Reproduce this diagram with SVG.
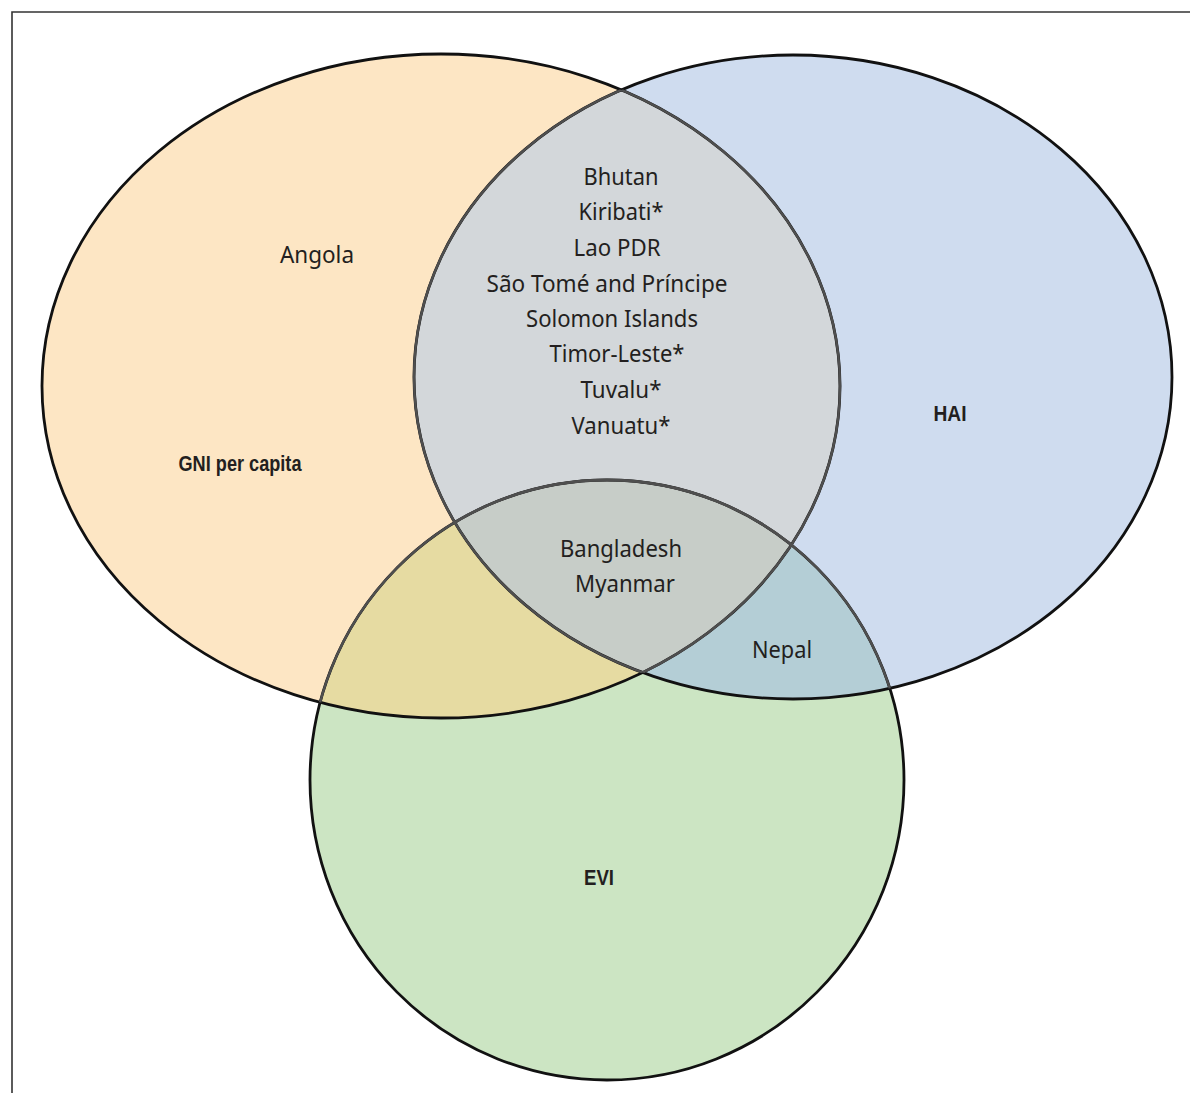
<svg xmlns="http://www.w3.org/2000/svg" width="1190" height="1093" viewBox="0 0 1190 1093">
  <style>
    .lbl { font-family: "Noto Sans", "Open Sans", "Liberation Sans", sans-serif; font-size: 23px; fill: #231F20; text-anchor: middle; }
    .ttl { font-family: "Liberation Sans", "DejaVu Sans", sans-serif; font-size: 22px; font-weight: bold; fill: #231F20; text-anchor: middle; }
    .edge { fill: none; stroke: #111; stroke-width: 2.8; }
    .edge-in { fill: none; stroke: #4f4f4f; stroke-width: 2.4; }
  </style>
  <defs>
    <ellipse id="shapeGNI" cx="441" cy="386" rx="399" ry="332"/>
    <ellipse id="shapeHAI" cx="793" cy="377" rx="379" ry="322"/>
    <ellipse id="shapeEVI" cx="607" cy="780" rx="297" ry="300"/>
    <clipPath id="clipGNI"><use href="#shapeGNI"/></clipPath>
    <clipPath id="clipHAI"><use href="#shapeHAI"/></clipPath>
    <clipPath id="clipEVI"><use href="#shapeEVI"/></clipPath>
  </defs>

  <rect width="1190" height="1093" fill="#ffffff"/>
  <!-- frame: top and left rules only -->
  <path d="M12 1093 V12 H1190" fill="none" stroke="#333" stroke-width="1.6"/>

  <!-- set regions -->
  <g id="fills">
    <use href="#shapeGNI" fill="#FDE6C4"/>
    <use href="#shapeHAI" fill="#CFDCEF"/>
    <use href="#shapeEVI" fill="#CCE5C3"/>
    <!-- pairwise overlaps -->
    <use href="#shapeHAI" fill="#D3D7DA" clip-path="url(#clipGNI)"/>
    <use href="#shapeEVI" fill="#E6DBA2" clip-path="url(#clipGNI)"/>
    <use href="#shapeEVI" fill="#B4CED6" clip-path="url(#clipHAI)"/>
    <!-- triple overlap -->
    <g clip-path="url(#clipHAI)">
      <use href="#shapeEVI" fill="#C7CDC8" clip-path="url(#clipGNI)"/>
    </g>
  </g>

  <!-- outlines -->
  <g id="outlines">
    <use href="#shapeGNI" class="edge"/>
    <use href="#shapeHAI" class="edge"/>
    <use href="#shapeEVI" class="edge"/>
    <!-- softer arcs where an outline runs inside another set -->
    <use href="#shapeGNI" class="edge-in" clip-path="url(#clipHAI)"/>
    <use href="#shapeHAI" class="edge-in" clip-path="url(#clipGNI)"/>
    <use href="#shapeEVI" class="edge-in" clip-path="url(#clipGNI)"/>
    <use href="#shapeEVI" class="edge-in" clip-path="url(#clipHAI)"/>
  </g>

  <g id="node-gni">
    <text class="ttl" x="240" y="471" textLength="123" lengthAdjust="spacingAndGlyphs">GNI per capita</text>
    <text class="lbl" x="317" y="263" textLength="74" lengthAdjust="spacingAndGlyphs">Angola</text>
  </g>
  <g id="node-hai">
    <text class="ttl" x="950" y="421" textLength="33" lengthAdjust="spacingAndGlyphs">HAI</text>
  </g>
  <g id="node-evi">
    <text class="ttl" x="599" y="885" textLength="30" lengthAdjust="spacingAndGlyphs">EVI</text>
  </g>
  <g id="node-gni-hai">
    <text class="lbl" x="621" y="185" textLength="75" lengthAdjust="spacingAndGlyphs">Bhutan</text>
    <text class="lbl" x="621" y="220" textLength="85" lengthAdjust="spacingAndGlyphs">Kiribati*</text>
    <text class="lbl" x="617" y="256" textLength="87" lengthAdjust="spacingAndGlyphs">Lao PDR</text>
    <text class="lbl" x="607" y="292" textLength="241" lengthAdjust="spacingAndGlyphs">São Tomé and Príncipe</text>
    <text class="lbl" x="612" y="327" textLength="172" lengthAdjust="spacingAndGlyphs">Solomon Islands</text>
    <text class="lbl" x="617" y="362" textLength="135" lengthAdjust="spacingAndGlyphs">Timor-Leste*</text>
    <text class="lbl" x="621" y="398" textLength="81" lengthAdjust="spacingAndGlyphs">Tuvalu*</text>
    <text class="lbl" x="621" y="434" textLength="99" lengthAdjust="spacingAndGlyphs">Vanuatu*</text>
  </g>
  <g id="node-all">
    <text class="lbl" x="621" y="557" textLength="122" lengthAdjust="spacingAndGlyphs">Bangladesh</text>
    <text class="lbl" x="625" y="592" textLength="100" lengthAdjust="spacingAndGlyphs">Myanmar</text>
  </g>
  <g id="node-hai-evi">
    <text class="lbl" x="782" y="658" textLength="60" lengthAdjust="spacingAndGlyphs">Nepal</text>
  </g>
</svg>
